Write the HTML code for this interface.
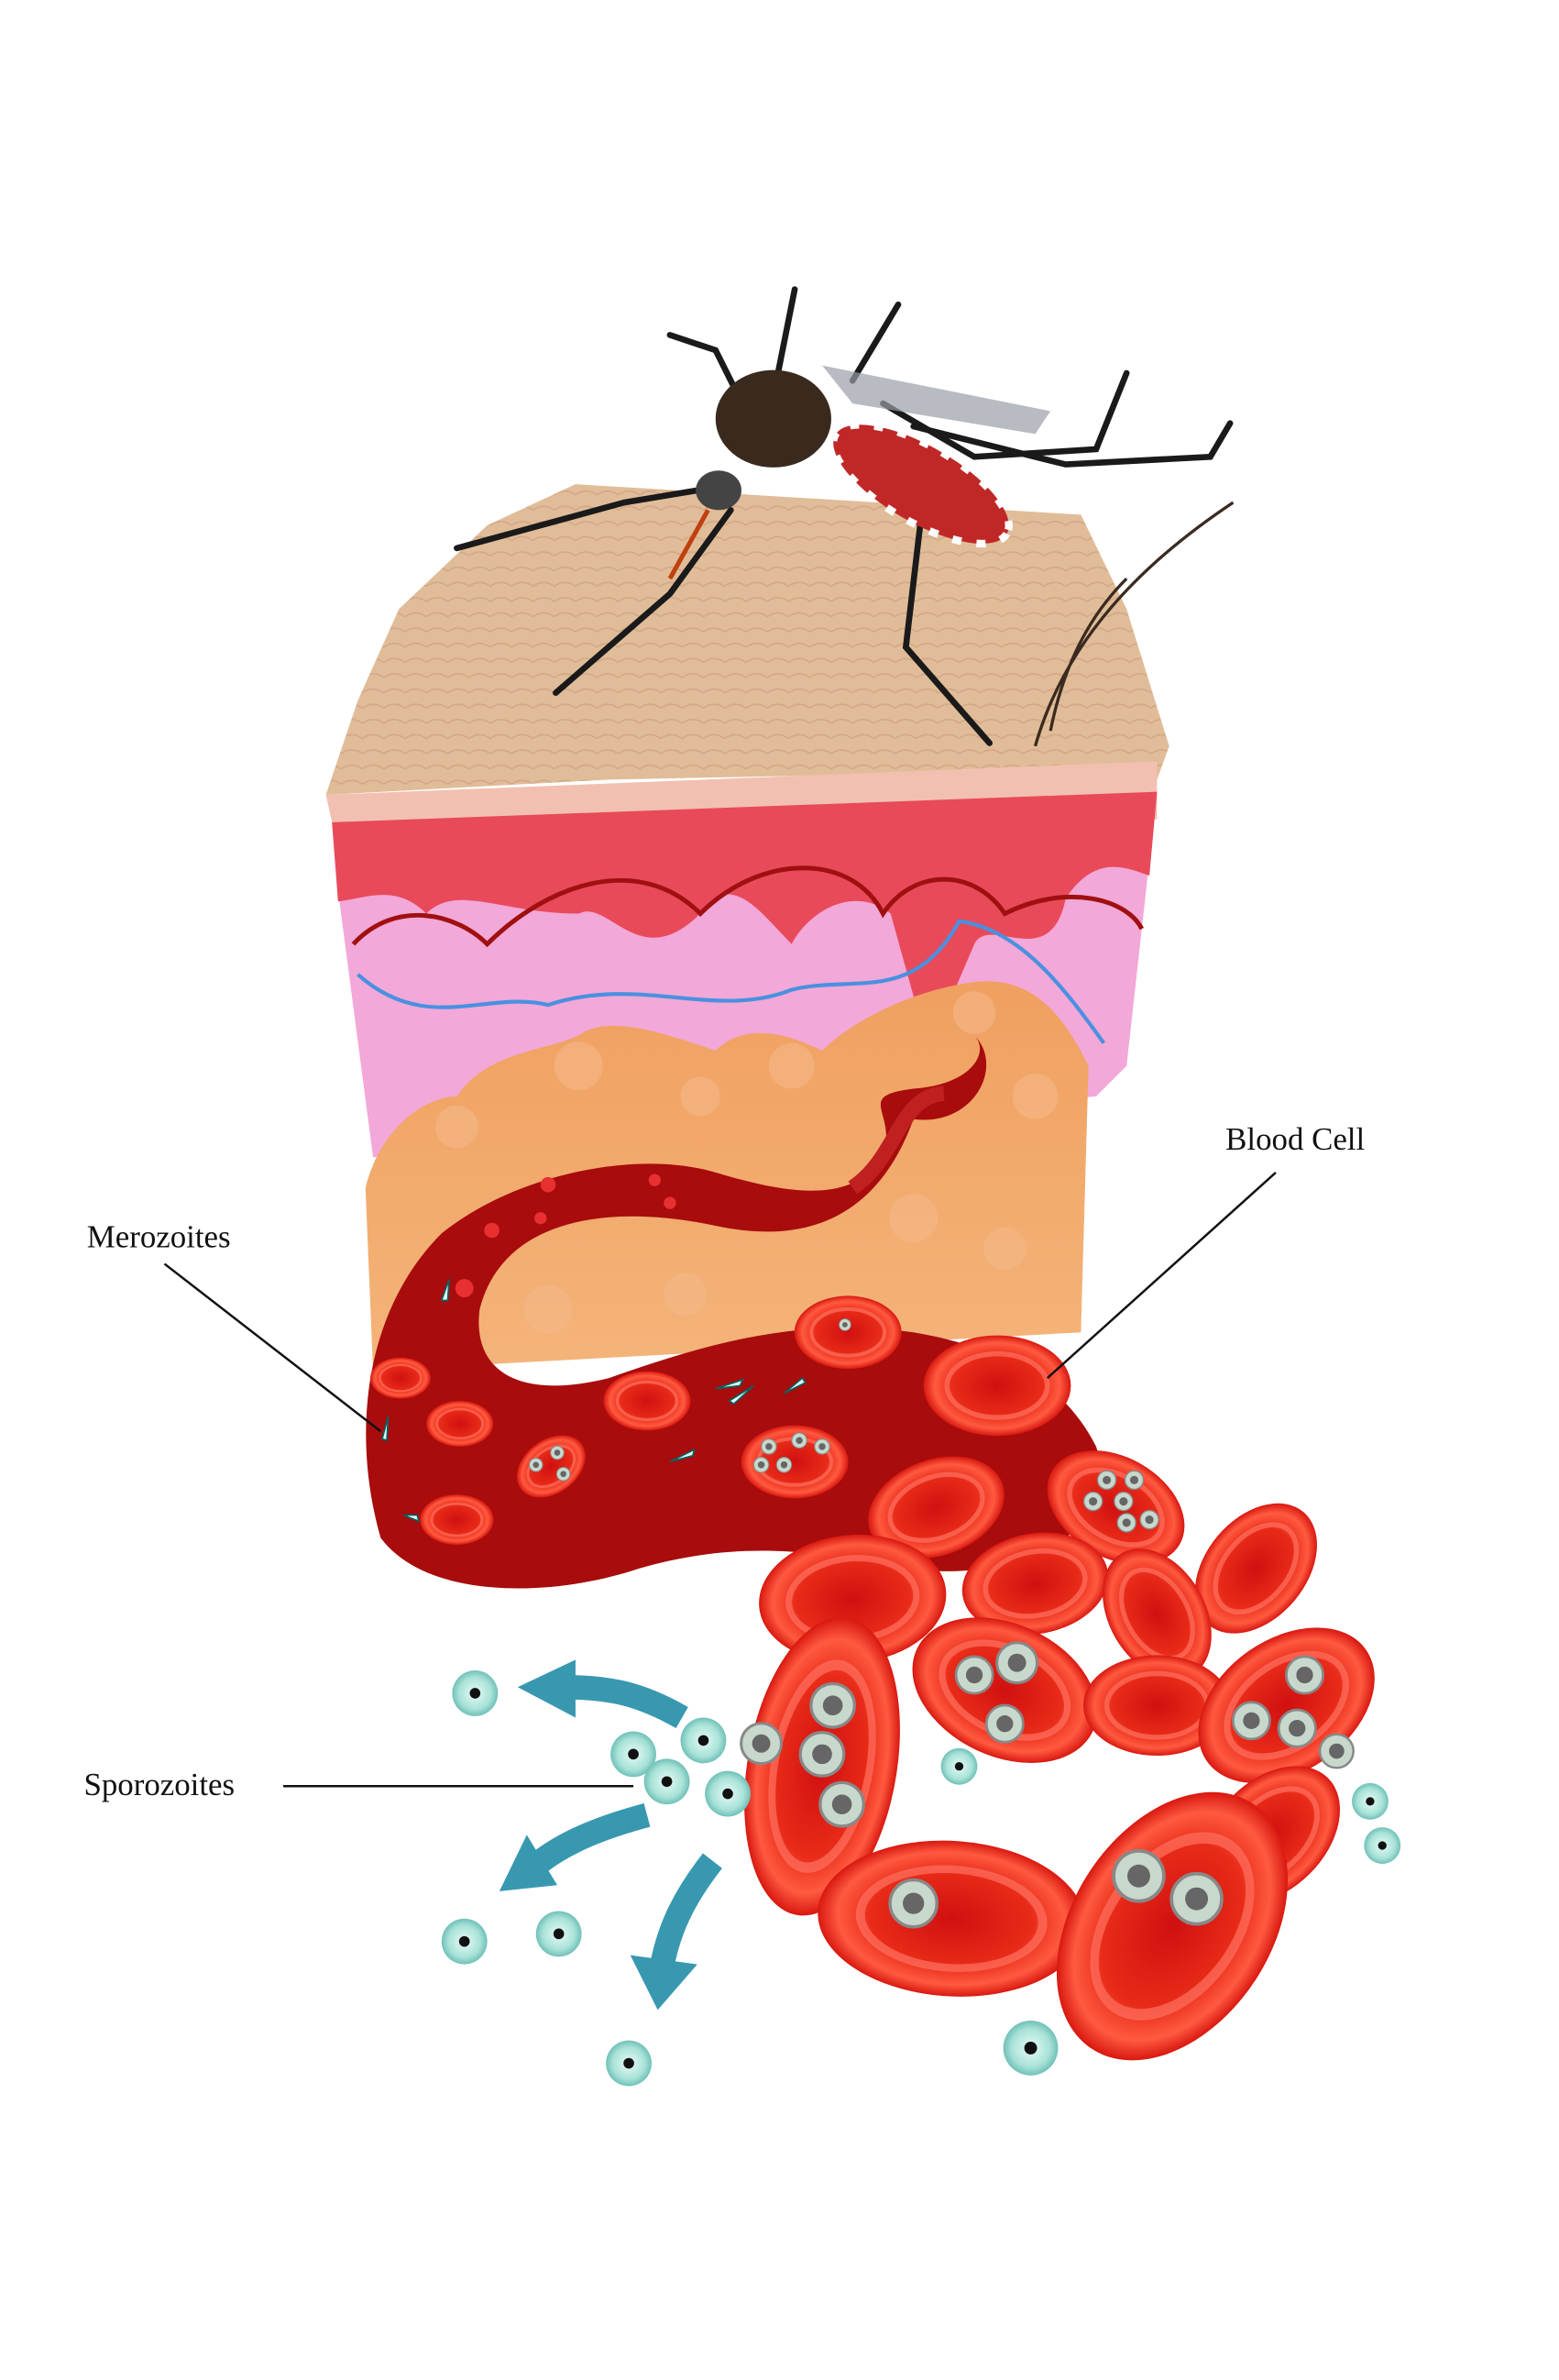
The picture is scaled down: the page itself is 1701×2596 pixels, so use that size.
<!DOCTYPE html>
<html><head><meta charset="utf-8"><style>
html,body{margin:0;padding:0;background:#fff;}
svg{display:block;}
text{font-family:"Liberation Serif",serif;font-size:21px;fill:#111;}
</style></head><body>
<svg width="1701" height="2596" viewBox="0 0 1024 1563" xmlns="http://www.w3.org/2000/svg">
<defs>
<radialGradient id="rbc" cx="50%" cy="50%" r="50%"><stop offset="0" stop-color="#d01010"/><stop offset="0.6" stop-color="#e82a18"/><stop offset="0.85" stop-color="#ff5a40"/><stop offset="1" stop-color="#d81810"/></radialGradient>
<radialGradient id="spz" cx="50%" cy="50%" r="50%"><stop offset="0" stop-color="#e8fbf6"/><stop offset="0.7" stop-color="#a8e2d8"/><stop offset="1" stop-color="#70c0b8"/></radialGradient>
<linearGradient id="fat" x1="0" y1="0" x2="0" y2="1"><stop offset="0" stop-color="#f0a060"/><stop offset="1" stop-color="#f4b47a"/></linearGradient>
<pattern id="tex" width="14" height="10" patternUnits="userSpaceOnUse"><rect width="14" height="10" fill="#e0bd98"/><path d="M0,5 Q7,0 14,5" stroke="#d4a888" fill="none" stroke-width="1"/></pattern>
<g id="cell"><ellipse rx="44" ry="30" fill="url(#rbc)"/><ellipse rx="30" ry="19" fill="none" stroke="#ff7060" stroke-width="3" opacity="0.7"/></g>
<g id="sp"><circle r="15" fill="url(#spz)"/><circle r="3.5" fill="#111"/></g>
<g id="par"><circle r="11" fill="#c8d8cc" stroke="#888" stroke-width="1.5"/><circle r="5" fill="#666"/></g>
</defs>
<!-- skin top -->
<polygon points="214,522 235,460 262,400 320,345 378,318 710,338 740,400 768,490 760,512 600,508 400,512" fill="url(#tex)"/>
<polygon points="214,522 760,500 760,538 218,540" fill="#f2c0b0"/>
<!-- dermis pink -->
<path d="M222,585 L755,565 L740,700 L720,720 L245,760 Z" fill="#f2a8d8"/>
<!-- red epidermis with fingers -->
<path d="M218,540 L760,520 L755,575 C740,570 720,560 700,590 C690,640 650,600 640,620 L610,690 L585,600 C560,580 530,600 520,620 C500,600 480,570 460,600 C420,640 400,590 380,600 C330,600 300,580 280,600 C260,580 240,590 222,592 Z" fill="#e84a5a"/>
<path d="M232,620 C260,590 300,600 320,620 C360,580 420,560 460,600 C500,560 560,560 580,600 C600,570 640,570 660,600 C700,580 740,590 750,610" fill="none" stroke="#a01010" stroke-width="3"/>
<path d="M235,640 C280,680 320,650 360,660 C420,640 470,670 520,650 C560,640 600,660 630,605 C670,610 700,650 725,685" fill="none" stroke="#4a90e0" stroke-width="2.5"/>
<!-- fat -->
<path d="M240,780 C250,740 280,720 300,720 C320,690 360,690 380,680 C400,665 440,680 470,690 C490,670 520,680 540,690 C560,670 600,650 640,645 C680,640 700,670 715,700 L710,875 L245,900 Z" fill="url(#fat)"/>
<g fill="#f5b888" opacity="0.6"><circle cx="300" cy="740" r="14"/><circle cx="380" cy="700" r="16"/><circle cx="460" cy="720" r="13"/><circle cx="520" cy="700" r="15"/><circle cx="640" cy="665" r="14"/><circle cx="680" cy="720" r="15"/><circle cx="600" cy="800" r="16"/><circle cx="660" cy="820" r="14"/><circle cx="360" cy="860" r="16"/><circle cx="450" cy="850" r="14"/></g>
<!-- vessel -->
<path d="M250,1010 C230,940 240,860 290,810 C340,770 420,755 470,770 C520,785 560,790 580,760 C590,730 560,720 600,715 C640,712 650,690 640,680 C660,700 640,740 600,735 C580,790 540,820 470,805 C400,790 330,800 315,860 C310,900 340,920 400,905 C470,880 530,865 600,875 C660,885 700,910 720,950 C740,1010 660,1040 600,1030 C540,1020 490,1010 420,1030 C360,1050 280,1050 250,1010 Z" fill="#a80c0c"/>
<path d="M560,780 C590,760 590,720 620,718" fill="none" stroke="#c02020" stroke-width="10"/>
<use href="#cell" transform="translate(263,905) scale(0.45)"/>
<use href="#cell" transform="translate(302,935) scale(0.5)"/>
<use href="#cell" transform="translate(362,963) scale(0.55,0.6) rotate(-30)"/>
<use href="#cell" transform="translate(300,998) scale(0.55)"/>
<use href="#cell" transform="translate(425,920) scale(0.65)"/>
<use href="#cell" transform="translate(522,960) scale(0.8)"/>
<use href="#cell" transform="translate(557,875) scale(0.8)"/>
<use href="#cell" transform="translate(655,910) scale(1.1)"/>
<circle cx="360" cy="778" r="5" fill="#e83030"/><circle cx="323" cy="808" r="5" fill="#e83030"/><circle cx="355" cy="800" r="4" fill="#e83030"/><circle cx="305" cy="846" r="6" fill="#e83030"/><circle cx="440" cy="790" r="4" fill="#e83030"/><circle cx="430" cy="775" r="4" fill="#e83030"/>
<g fill="#dff" stroke="#0a6060" stroke-width="1"><path d="M470,912 l18,-6 l-2,4z"/><path d="M495,910 l-16,10 l3,2z"/><path d="M515,915 l12,-10 l2,3z"/><path d="M440,960 l16,-8 l-1,4z"/><path d="M255,930 l-4,15 l3,1z"/><path d="M265,995 l10,4 l-1,-4z"/><path d="M295,840 l-5,14 l4,0z"/></g>
<g><use href="#par" transform="translate(352,962) scale(0.4)"/><use href="#par" transform="translate(366,954) scale(0.4)"/><use href="#par" transform="translate(370,968) scale(0.4)"/><use href="#par" transform="translate(505,950) scale(0.45)"/><use href="#par" transform="translate(525,946) scale(0.45)"/><use href="#par" transform="translate(540,950) scale(0.45)"/><use href="#par" transform="translate(515,962) scale(0.45)"/><use href="#par" transform="translate(500,962) scale(0.45)"/><use href="#par" transform="translate(555,870) scale(0.35)"/></g>
<use href="#cell" transform="translate(615,990) scale(1.05) rotate(-20)"/>
<use href="#cell" transform="translate(825,1030) scale(1.1) rotate(-50)"/>
<use href="#cell" transform="translate(733,990) scale(1.1) rotate(30)"/>
<use href="#cell" transform="translate(680,1040) scale(1.1) rotate(-10)"/>
<use href="#cell" transform="translate(760,1060) scale(1.05) rotate(60)"/>
<use href="#cell" transform="translate(560,1050) scale(1.4) rotate(-5)"/>
<use href="#cell" transform="translate(660,1110) scale(1.45) rotate(25)"/>
<use href="#cell" transform="translate(760,1120) scale(1.1)"/>
<use href="#cell" transform="translate(845,1120) scale(1.45) rotate(-35)"/>
<use href="#cell" transform="translate(540,1160) scale(1.6,2.3) rotate(-70)"/>
<use href="#cell" transform="translate(835,1205) scale(1.2) rotate(-45)"/>
<use href="#cell" transform="translate(625,1260) scale(2.0,1.7) rotate(5)"/>
<use href="#cell" transform="translate(770,1265) scale(1.9,2.5) rotate(-35)"/>
<g><use href="#par" transform="translate(727,972) scale(0.55)"/><use href="#par" transform="translate(745,972) scale(0.55)"/><use href="#par" transform="translate(718,986) scale(0.55)"/><use href="#par" transform="translate(738,986) scale(0.55)"/><use href="#par" transform="translate(755,998) scale(0.55)"/><use href="#par" transform="translate(740,1000) scale(0.55)"/>
<use href="#par" transform="translate(640,1100) scale(1.1)"/><use href="#par" transform="translate(668,1092) scale(1.2)"/><use href="#par" transform="translate(660,1132) scale(1.1)"/>
<use href="#par" transform="translate(547,1120) scale(1.3)"/><use href="#par" transform="translate(540,1152) scale(1.3)"/><use href="#par" transform="translate(553,1185) scale(1.3)"/><use href="#par" transform="translate(500,1145) scale(1.2)"/>
<use href="#par" transform="translate(857,1100) scale(1.1)"/><use href="#par" transform="translate(822,1130) scale(1.1)"/><use href="#par" transform="translate(852,1135) scale(1.1)"/><use href="#par" transform="translate(878,1150) scale(1)"/>
<use href="#par" transform="translate(600,1250) scale(1.4)"/><use href="#par" transform="translate(748,1232) scale(1.5)"/><use href="#par" transform="translate(786,1247) scale(1.5)"/></g>
<use href="#sp" transform="translate(312,1112)"/><use href="#sp" transform="translate(416,1152)"/><use href="#sp" transform="translate(438,1170)"/><use href="#sp" transform="translate(462,1143)"/><use href="#sp" transform="translate(478,1178)"/><use href="#sp" transform="translate(305,1275)"/><use href="#sp" transform="translate(367,1270)"/><use href="#sp" transform="translate(413,1355)"/><use href="#sp" transform="translate(677,1345) scale(1.2)"/><use href="#sp" transform="translate(900,1183) scale(0.8)"/><use href="#sp" transform="translate(908,1212) scale(0.8)"/><use href="#sp" transform="translate(630,1160) scale(0.8)"/>
<g fill="none" stroke="#3898b0" stroke-width="16"><path d="M448,1128 C420,1112 400,1108 370,1108"/><path d="M425,1192 C395,1200 370,1210 352,1225"/><path d="M468,1222 C450,1245 440,1265 435,1290"/></g>
<g fill="#3898b0"><polygon points="340,1108 378,1090 378,1128"/><polygon points="328,1242 346,1205 366,1238"/><polygon points="432,1320 414,1284 458,1290"/></g>
<!-- mosquito -->
<g stroke="#1a1a1a" stroke-width="4" fill="none" stroke-linecap="round">
<path d="M470,320 L410,330 L300,360"/><path d="M480,335 L440,390 L365,455"/><path d="M500,290 L470,230 L440,220"/><path d="M510,250 L522,190"/><path d="M560,250 L590,200"/><path d="M580,265 L640,300 L720,295 L740,245"/><path d="M600,280 L700,305 L795,300 L808,278"/><path d="M580,310 L605,340 L595,425 L650,488"/>
</g>
<polygon points="540,240 690,270 680,285 560,265" fill="#9aa0a8" opacity="0.7"/>
<ellipse cx="605" cy="318" rx="65" ry="25" transform="rotate(30 605 318)" fill="#c02828"/>
<ellipse cx="605" cy="318" rx="65" ry="25" transform="rotate(30 605 318)" fill="none" stroke="#fff" stroke-dasharray="6 10" stroke-width="5"/>
<ellipse cx="508" cy="275" rx="38" ry="32" fill="#3a2a1e"/>
<ellipse cx="472" cy="322" rx="15" ry="13" fill="#444"/>
<path d="M465,335 L440,380" stroke="#c04010" stroke-width="3"/>
<path d="M680,490 C700,420 750,370 810,330 M690,480 C700,430 720,400 740,380" stroke="#3a2a20" stroke-width="2" fill="none"/>
<text x="805" y="755">Blood Cell</text>
<line x1="838" y1="770" x2="688" y2="905" stroke="#111" stroke-width="1.5"/>
<text x="57" y="819">Merozoites</text>
<line x1="108" y1="830" x2="250" y2="940" stroke="#111" stroke-width="1.5"/>
<text x="55" y="1179">Sporozoites</text>
<line x1="186" y1="1173" x2="416" y2="1173" stroke="#111" stroke-width="1.5"/>
</svg>
</body></html>
